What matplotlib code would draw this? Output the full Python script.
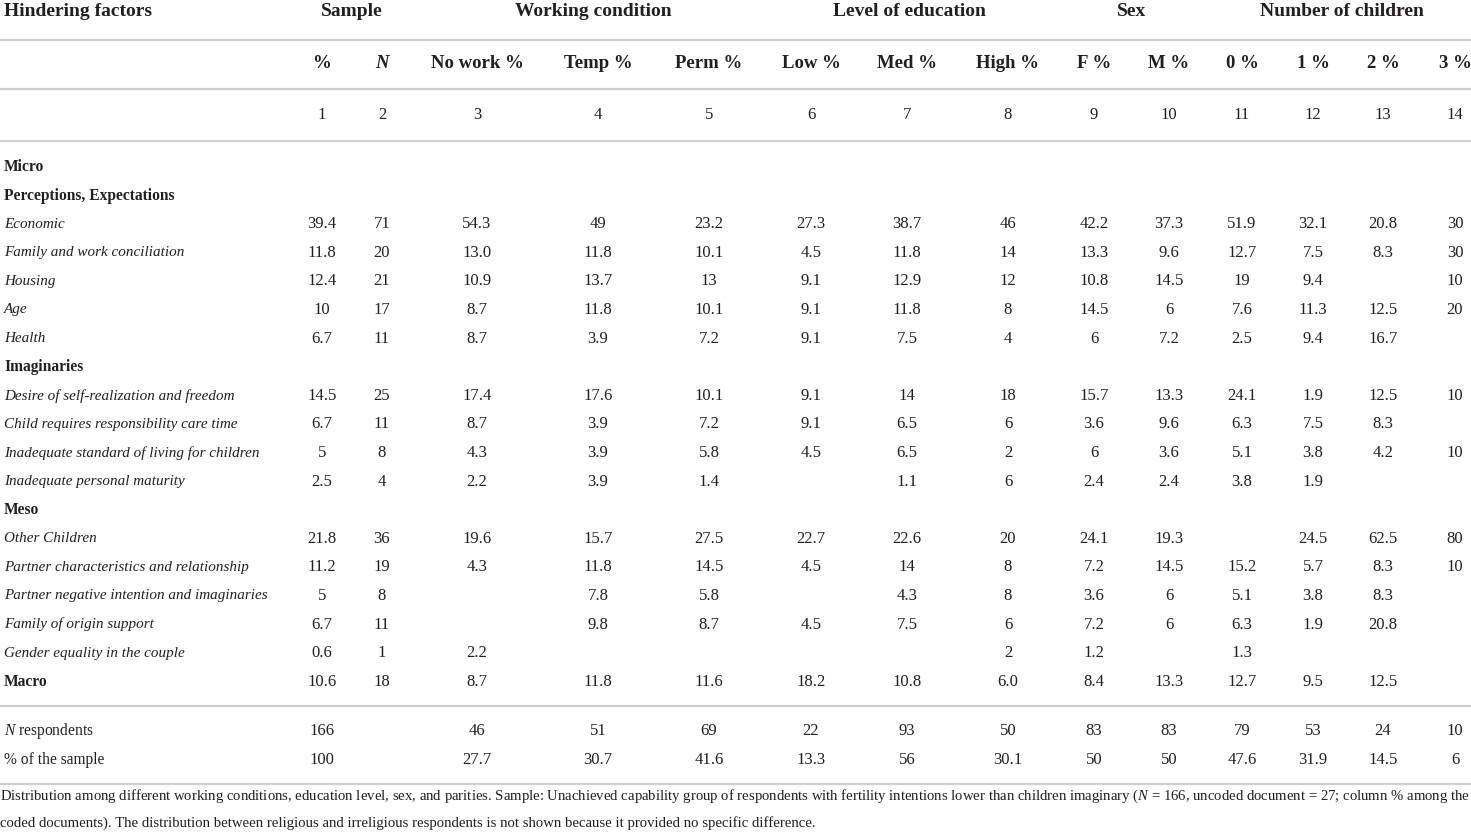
import matplotlib
matplotlib.use("Agg")
import matplotlib.pyplot as plt

plt.rcParams['font.family'] = ['Liberation Serif', 'DejaVu Serif']
plt.rcParams['mathtext.fontset'] = 'custom'
plt.rcParams['mathtext.rm'] = 'Liberation Serif'
plt.rcParams['mathtext.it'] = 'Liberation Serif:italic'
plt.rcParams['mathtext.bf'] = 'Liberation Serif:bold'

# --- table content ---
group_names = ["Sample", "Working condition", "Level of education", "Sex", "Number of children"]
group_spans = [(0, 1), (2, 4), (5, 7), (8, 9), (10, 13)]
col_labels = ["%", "N", "No work %", "Temp %", "Perm %", "Low %", "Med %", "High %",
              "F %", "M %", "0 %", "1 %", "2 %", "3 %"]
col_numbers = [str(i) for i in range(1, 15)]

row_labels = ["Micro", "Perceptions, Expectations", "Economic", "Family and work conciliation",
              "Housing", "Age", "Health", "Imaginaries", "Desire of self-realization and freedom",
              "Child requires responsibility care time", "Inadequate standard of living for children",
              "Inadequate personal maturity", "Meso", "Other Children",
              "Partner characteristics and relationship", "Partner negative intention and imaginaries",
              "Family of origin support", "Gender equality in the couple", "Macro"]
row_styles = ["head", "head", "it", "it", "it", "it", "it", "head", "it", "it", "it", "it",
              "head", "it", "it", "it", "it", "it", "head"]
row_values = [
    [""] * 14,
    [""] * 14,
    ["39.4", "71", "54.3", "49", "23.2", "27.3", "38.7", "46", "42.2", "37.3", "51.9", "32.1", "20.8", "30"],
    ["11.8", "20", "13.0", "11.8", "10.1", "4.5", "11.8", "14", "13.3", "9.6", "12.7", "7.5", "8.3", "30"],
    ["12.4", "21", "10.9", "13.7", "13", "9.1", "12.9", "12", "10.8", "14.5", "19", "9.4", "", "10"],
    ["10", "17", "8.7", "11.8", "10.1", "9.1", "11.8", "8", "14.5", "6", "7.6", "11.3", "12.5", "20"],
    ["6.7", "11", "8.7", "3.9", "7.2", "9.1", "7.5", "4", "6", "7.2", "2.5", "9.4", "16.7", ""],
    [""] * 14,
    ["14.5", "25", "17.4", "17.6", "10.1", "9.1", "14", "18", "15.7", "13.3", "24.1", "1.9", "12.5", "10"],
    ["6.7", "11", "8.7", "3.9", "7.2", "9.1", "6.5", "6", "3.6", "9.6", "6.3", "7.5", "8.3", ""],
    ["5", "8", "4.3", "3.9", "5.8", "4.5", "6.5", "2", "6", "3.6", "5.1", "3.8", "4.2", "10"],
    ["2.5", "4", "2.2", "3.9", "1.4", "", "1.1", "6", "2.4", "2.4", "3.8", "1.9", "", ""],
    [""] * 14,
    ["21.8", "36", "19.6", "15.7", "27.5", "22.7", "22.6", "20", "24.1", "19.3", "", "24.5", "62.5", "80"],
    ["11.2", "19", "4.3", "11.8", "14.5", "4.5", "14", "8", "7.2", "14.5", "15.2", "5.7", "8.3", "10"],
    ["5", "8", "", "7.8", "5.8", "", "4.3", "8", "3.6", "6", "5.1", "3.8", "8.3", ""],
    ["6.7", "11", "", "9.8", "8.7", "4.5", "7.5", "6", "7.2", "6", "6.3", "1.9", "20.8", ""],
    ["0.6", "1", "2.2", "", "", "", "", "2", "1.2", "", "1.3", "", "", ""],
    ["10.6", "18", "8.7", "11.8", "11.6", "18.2", "10.8", "6.0", "8.4", "13.3", "12.7", "9.5", "12.5", ""],
]

total_labels = [r"$\mathit{N}$ respondents", "% of the sample"]
total_values = [
    ["166", "", "46", "51", "69", "22", "93", "50", "83", "83", "79", "53", "24", "10"],
    ["100", "", "27.7", "30.7", "41.6", "13.3", "56", "30.1", "50", "50", "47.6", "31.9", "14.5", "6"],
]

footnote = [
    "Distribution among different working conditions, education level, sex, and parities. Sample: Unachieved "
    "capability group of respondents with fertility intentions lower than children imaginary ($\\mathit{N}$ = 166, "
    "uncoded document = 27; column % among the",
    "coded documents). The distribution between religious and irreligious respondents is not shown because it "
    "provided no specific difference.",
]

# --- layout (pixels) ---
W, H = 1471, 835
col_x = [322, 382, 477, 598, 709, 811, 907, 1008, 1094, 1169, 1242, 1313, 1383, 1455]
left_x = 4
fs_group = 14
fs_col = 13.5
fs_num = 12
fs_label = 10.9
fs_section = 11.2
fs_note = 10.62
txt_color = "#231f20"
rule_color = "#cfcfcf"

fig = plt.figure(figsize=(W / 100, H / 100), dpi=100)
ax = fig.add_axes([0, 0, 1, 1])
ax.set_xlim(0, W)
ax.set_ylim(H, 0)
ax.axis("off")


def put(x, y, s, size, ha="center", **kw):
    ax.text(x, y, s, ha=ha, va="center", fontsize=size, color=txt_color, **kw)


def rule(y):
    ax.plot([0, W], [y, y], color=rule_color, lw=1.6, solid_capstyle="butt")


# header
put(left_x, 12, "Hindering factors", fs_group, ha="left", fontweight="bold")
for name, (a, b) in zip(group_names, group_spans):
    cx = min((col_x[a] + col_x[b]) / 2, 1342)
    put(cx, 12, name, fs_group, fontweight="bold")
rule(40)
for x, lab in zip(col_x, col_labels):
    if lab == "N":
        put(x, 63, lab, fs_col, fontweight="bold", fontstyle="italic")
    else:
        put(x, 63, lab, fs_col, fontweight="bold")
rule(89)
for x, lab in zip(col_x, col_numbers):
    put(x, 115, lab, fs_num)
rule(141)

# body
y0, dy = 167, 28.6
for i, (lab, sty, vals) in enumerate(zip(row_labels, row_styles, row_values)):
    y = y0 + i * dy
    if sty == "head":
        put(left_x, y, lab, fs_section, ha="left", fontweight="bold")
    else:
        put(left_x, y, lab, fs_label, ha="left", fontstyle="italic")
    for x, v in zip(col_x, vals):
        if v:
            put(x, y, v, fs_num)

rule(706)
for j, (lab, vals) in enumerate(zip(total_labels, total_values)):
    y = 731 + j * 28.6
    put(left_x, y, lab, fs_section, ha="left")
    for x, v in zip(col_x, vals):
        if v:
            put(x, y, v, fs_num)
rule(784)

for j, line in enumerate(footnote):
    put(0, 796 + j * 27, line, fs_note, ha="left")

fig.savefig("out.png", dpi=100)
